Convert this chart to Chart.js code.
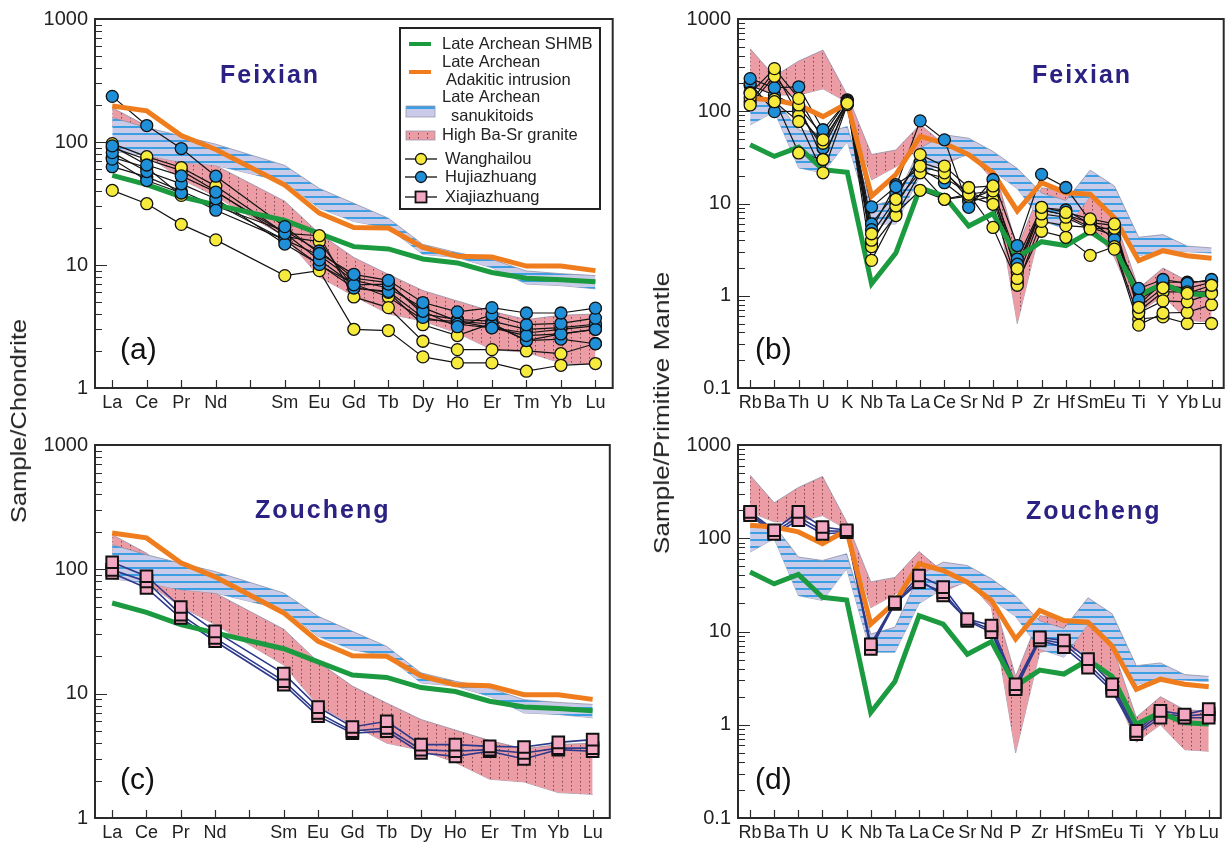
<!DOCTYPE html>
<html>
<head>
<meta charset="utf-8">
<script src="https://cdn.jsdelivr.net/npm/chart.js@4.4.0/dist/chart.umd.min.js"></script>
<style>
    body { margin: 0; background: #fff; width: 1231px; height: 845px; position: relative; overflow: hidden; font-family: 'Liberation Sans', Arial, sans-serif; }
    canvas { position: absolute; }
    .ytitle { position: absolute; white-space: nowrap; font-size: 22px; color: #222; }
</style>
</head>
<body>
<canvas id="chartA" width="620" height="420" style="left:0;top:0"></canvas>
<canvas id="chartB" width="611" height="420" style="left:620px;top:0"></canvas>
<canvas id="chartC" width="620" height="425" style="left:0;top:420px"></canvas>
<canvas id="chartD" width="611" height="425" style="left:620px;top:420px"></canvas>
<div class="ytitle" style="left:19px;top:421px;transform:translate(-50%,-50%) rotate(-90deg) scaleX(1.16)">Sample/Chondrite</div>
<div class="ytitle" style="left:662px;top:413px;transform:translate(-50%,-50%) rotate(-90deg) scaleX(1.19)">Sample/Primitive Mantle</div>

<script>
// Element lists
const REE = ['La', 'Ce', 'Pr', 'Nd', 'Sm', 'Eu', 'Gd', 'Tb', 'Dy', 'Ho', 'Er', 'Tm', 'Yb', 'Lu'];
const REE_TICKS = ['La', 'Ce', 'Pr', 'Nd', '', 'Sm', 'Eu', 'Gd', 'Tb', 'Dy', 'Ho', 'Er', 'Tm', 'Yb', 'Lu'];
const SPIDER = ['Rb', 'Ba', 'Th', 'U', 'K', 'Nb', 'Ta', 'La', 'Ce', 'Sr', 'Nd', 'P', 'Zr', 'Hf', 'Sm', 'Eu', 'Ti', 'Y', 'Yb', 'Lu'];

// Reference fields, chondrite normalised
const SHMB_REE = [53.6, 45, 35.9, 30.8, 23, 18, 14.1, 13.5, 11.2, 10.4, 8.7, 7.8, 7.6, 7.3];
const ADAK_REE = [196, 179, 113, 87, 44.6, 26.4, 20.2, 20, 13.9, 11.8, 11.6, 9.8, 9.8, 9.0];
const SANUK_REE_HI = [158, 131, 112, 96, 64.5, 41.9, 31.7, 24, 14.7, 12.6, 11.1, 8.95, 8.5, 8.2];
const SANUK_REE_LO = [84, 77.6, 68.6, 64.5, 47.4, 28.9, 22.6, 20, 12.2, 11.5, 9.5, 7.0, 6.8, 6.4];
const HBS_REE_HI = [190, 135, 80, 64.5, 33, 18, 11.5, 8.4, 6.2, 5.1, 4.2, 3.6, 3.9, 4.0];
const HBS_REE_LO = [135, 78, 50, 36, 17, 8.0, 5.6, 4.0, 3.5, 2.8, 2.05, 1.95, 1.6, 1.55];

// Reference fields, primitive mantle normalised
const SHMB_PM = [43.4, 32.4, 40.9, 23.3, 21.8, 1.35, 2.9, 14.8, 12, 5.7, 7.8, 2.6, 3.85, 3.5, 4.95, 3.3, 1.01, 1.35, 1.05, 1.02];
const ADAK_PM = [138, 132, 117, 87.5, 122, 12, 20.6, 53.3, 45, 33.8, 21.5, 8.3, 16.8, 13.1, 12.6, 7.0, 2.4, 3.08, 2.72, 2.55];
const SANUK_PM_HI = [132, 138, 62.8, 57.8, 68.2, 9.4, 11.1, 40, 55.5, 51, 36.7, 24, 13, 10.8, 23, 15.5, 4.3, 4.6, 3.45, 3.3];
const SANUK_PM_LO = [71, 99, 24.3, 21.5, 47, 6.0, 6.0, 20, 28.7, 33.8, 22.4, 14.5, 6.5, 5.3, 12, 7.5, 2.7, 3.1, 3.0, 2.9];
const HBS_PM_HI = [475, 240, 350, 460, 150, 34, 38, 72, 43.4, 43.4, 26.4, 3.3, 14.8, 13.6, 12.6, 7.0, 1.2, 2.0, 1.45, 1.4];
const HBS_PM_LO = [190, 150, 150, 175, 125, 18, 25, 40, 26.4, 35, 18, 0.5, 6.0, 6.5, 6.0, 2.6, 0.65, 1.0, 0.54, 0.52];

// Feixian samples
const WANG_REE = [
    [40.4, 31.5, 21.4, 16.0, 8.2, 9.0, 3.0, 2.93, 1.79, 1.6, 1.6, 1.37, 1.53, 1.58],
    [97, 76, 62, 43.8, 18.1, 17.3, 5.5, 4.5, 2.4, 2.05, 2.05, 2.0, 1.9, 2.3],
    [90, 72, 58.5, 40, 17, 15.5, 6.5, 6.0, 3.27, 2.67, 3.35, 2.43, 2.75, 3.0],
    [75, 62, 36.8, 31.5, 16, 10, 7, 5.5, 3.6, 3.48, 3.1, 2.8, 3.0, 3.2]
];
const HUJ_REE = [
    [235, 136, 88.5, 52.7, 20.5, 12.4, 8.4, 7.5, 4.95, 4.16, 4.5, 4.07, 4.07, 4.46],
    [93, 65, 53, 39.2, 18.1, 11.0, 6.9, 7.0, 4.2, 3.15, 3.94, 3.27, 3.35, 3.7],
    [82, 57.5, 45.7, 34.6, 14.8, 10.1, 6.5, 6.1, 3.75, 3.3, 3.08, 2.67, 2.75, 3.0],
    [72.6, 48.6, 38.5, 27.9, 16, 12, 7.5, 6.5, 4.5, 3.5, 3.3, 2.43, 2.5, 2.29],
    [63, 52, 40, 30, 19, 13, 7.8, 7.2, 4.0, 3.6, 3.5, 3.0, 3.1, 3.3]
];
const WANG_PM = [
    [156, 290, 138, 49, 122, 4.7, 11.1, 33.9, 25.4, 14.9, 15.5, 1.97, 9.1, 8.0, 6.8, 6.0, 0.75, 1.22, 1.06, 1.3],
    [117, 240, 117, 30, 125, 4.0, 9.4, 25.4, 21.5, 12.6, 13.7, 1.54, 7.7, 7.1, 5.3, 5.4, 0.65, 0.88, 0.86, 1.06],
    [160, 127, 77.4, 21.5, 118, 3.4, 7.4, 21.5, 11.1, 12, 9.8, 1.3, 6.4, 5.75, 5.5, 3.2, 0.48, 0.65, 0.66, 0.8],
    [140, 135, 35.3, 30, 120, 2.42, 7.8, 13.9, 11.1, 12.6, 5.5, 1.4, 5.0, 4.3, 2.74, 3.4, 0.56, 0.59, 0.5, 0.5],
    [125, 270, 90, 45, 128, 3.7, 10.5, 22, 19, 13, 11, 1.8, 8.5, 7.5, 6.2, 5.8, 0.68, 1.1, 1.1, 1.1]
];
const HUJ_PM = [
    [226, 180, 184, 63, 130, 9.2, 15.2, 78.7, 49, 9.1, 18.2, 3.5, 20.7, 14.9, 6.5, 4.1, 1.2, 1.5, 1.36, 1.5],
    [200, 99, 100, 40, 125, 5.2, 16, 24, 16.8, 10.5, 12, 2.2, 8.5, 7.5, 5.5, 4.5, 0.9, 1.3, 1.2, 1.4],
    [190, 150, 110, 55, 133, 6, 13, 28, 23, 11, 14, 2.5, 9, 8.5, 6.0, 5, 0.8, 1.4, 1.4, 1.45]
];

// Zoucheng samples
const XIA_REE = [
    [114, 88, 49.8, 31.7, 14.5, 7.8, 5.4, 6.0, 3.89, 3.89, 3.77, 3.72, 4.06, 4.27],
    [99, 80, 43.2, 28, 12.6, 7.0, 5.0, 5.3, 3.55, 3.44, 3.55, 3.33, 3.65, 3.65],
    [93.5, 70.8, 40.6, 26.4, 11.8, 6.6, 4.8, 5.0, 3.33, 3.13, 3.44, 2.98, 3.55, 3.44]
];
const XIA_PM = [
    [192, 122, 192, 132, 122, 7.3, 20.6, 39.9, 29.9, 13.6, 11.6, 2.72, 8.65, 8.0, 5.06, 2.72, 0.86, 1.41, 1.29, 1.47],
    [177, 111, 156, 111, 116, 6.5, 19.8, 33.8, 26.4, 13.0, 9.8, 2.4, 8.0, 6.8, 4.1, 2.3, 0.79, 1.19, 1.19, 1.19],
    [185, 116, 170, 120, 119, 6.9, 20.2, 36, 24.3, 13.3, 10.5, 2.55, 8.3, 7.4, 4.5, 2.5, 0.82, 1.3, 1.24, 1.3]
];

const LEGEND_LABELS = ['Late Archean SHMB', 'Late Archean', 'Adakitic intrusion', 'Late Archean', 'sanukitoids',
    'High Ba-Sr granite', 'Wanghailou', 'Hujiazhuang', 'Xiajiazhuang'];

const GREEN = '#1c9a3f';
const ORANGE = '#ef7d1d';
const YELLOW = '#f6ea3c';
const BLUE = '#1f8fd8';
const PINK = '#f2a7c3';
const NAVY = '#2a2183';
const FONT = "'Liberation Sans', Arial, sans-serif";

function stripePattern() {
    const c = document.createElement('canvas');
    c.width = 8; c.height = 7;
    const g = c.getContext('2d');
    g.fillStyle = '#c9cbe8';
    g.fillRect(0, 0, 8, 7);
    g.fillStyle = '#3d9fe3';
    g.fillRect(0, 0, 8, 2);
    return g.createPattern(c, 'repeat');
}

function dotPattern() {
    const c = document.createElement('canvas');
    c.width = 9; c.height = 4;
    const g = c.getContext('2d');
    g.fillStyle = '#ec9ca5';
    g.fillRect(0, 0, 9, 4);
    g.fillStyle = 'rgba(90,40,45,0.75)';
    g.fillRect(4, 1, 1, 1.5);
    return g.createPattern(c, 'repeat');
}

const STRIPES = stripePattern();
const DOTS = dotPattern();

// put a null at the Pm slot
const ree = vals => REE_TICKS.map(t => t ? vals[REE.indexOf(t)] : null);

function logTicks(min, max) {
    const ticks = [];
    for (let d = Math.round(Math.log10(min)); d < Math.round(Math.log10(max)); d++) {
        for (let i = 1; i < 10; i++) ticks.push({ value: Number((i * Math.pow(10, d)).toPrecision(3)) });
    }
    ticks.push({ value: max });
    return ticks;
}

const isDecade = v => Math.abs(Math.log10(v) - Math.round(Math.log10(v))) < 1e-6;

const band = (hi, lo, pattern, order) => [
    { data: hi, borderColor: '#8f8fa6', borderWidth: 0.8, pointRadius: 0, fill: '+1', backgroundColor: pattern, order },
    { data: lo, borderColor: '#8f8fa6', borderWidth: 0.8, pointRadius: 0, fill: false, order }
];
const refLine = (data, color) => ({ data, borderColor: color, borderWidth: 5, pointRadius: 0, fill: false, order: 1 });
const sampleLine = (data, color, width) => ({ data, borderColor: color, borderWidth: width, pointRadius: 0, fill: false, order: 2 });
const samplePts = (data, fill, style, r, bw, order) => ({
    data, showLine: false, pointStyle: style, pointRadius: r,
    pointBackgroundColor: fill, pointBorderColor: '#111', pointBorderWidth: bw, order
});

// frame, inward ticks, panel title and letter, optional legend
const panelDeco = {
    id: 'panelDeco',
    afterDatasetsDraw(chart, args, opts) {
        const { ctx, chartArea: a } = chart;
        const xs = chart.scales.x, ys = chart.scales.y;
        ctx.save();
        ctx.strokeStyle = '#2a2a2a';
        ctx.lineWidth = 1.2;
        ctx.beginPath();
        ys.ticks.forEach(t => {
            const py = Math.round(ys.getPixelForValue(t.value)) + 0.5;
            ctx.moveTo(a.left, py);
            ctx.lineTo(a.left + (isDecade(t.value) ? 12 : 7), py);
        });
        xs.ticks.forEach((t, i) => {
            const px = Math.round(xs.getPixelForTick(i)) + 0.5;
            ctx.moveTo(px, a.bottom);
            ctx.lineTo(px, a.bottom - 8);
        });
        ctx.stroke();
        ctx.lineWidth = 2;
        ctx.strokeRect(a.left, a.top, a.right - a.left, a.bottom - a.top);

        ctx.fillStyle = NAVY;
        ctx.font = `bold 25px ${FONT}`;
        ctx.letterSpacing = '2px';
        ctx.textAlign = 'left';
        ctx.textBaseline = 'alphabetic';
        ctx.fillText(opts.title, opts.titleX, opts.titleY);
        ctx.letterSpacing = '0px';
        ctx.fillStyle = '#111';
        ctx.font = `30px ${FONT}`;
        ctx.fillText(opts.letter, opts.letterX, opts.letterY);
        if (opts.legend) drawLegend(ctx);
        ctx.restore();
    }
};

function drawLegend(ctx) {
    const L = LEGEND_LABELS;
    ctx.fillStyle = '#fff';
    ctx.fillRect(400, 28, 200, 181);
    ctx.strokeStyle = '#222';
    ctx.lineWidth = 2;
    ctx.strokeRect(400, 28, 200, 181);

    ctx.lineWidth = 4;
    ctx.strokeStyle = GREEN;
    ctx.beginPath(); ctx.moveTo(409, 44); ctx.lineTo(431, 44); ctx.stroke();
    ctx.strokeStyle = ORANGE;
    ctx.beginPath(); ctx.moveTo(409, 72); ctx.lineTo(431, 72); ctx.stroke();

    ctx.fillStyle = '#c9cbe8';
    ctx.fillRect(406, 106, 29, 11);
    ctx.fillStyle = '#3d9fe3';
    ctx.fillRect(406, 106, 29, 3);
    ctx.fillStyle = DOTS;
    ctx.fillRect(406, 131, 29, 9);
    ctx.strokeStyle = '#9a9ab0';
    ctx.lineWidth = 0.8;
    ctx.strokeRect(406, 106, 29, 11);
    ctx.strokeRect(406, 131, 29, 9);

    const rows = [159, 177, 197];
    ctx.strokeStyle = '#111';
    ctx.lineWidth = 1.3;
    rows.forEach(y => { ctx.beginPath(); ctx.moveTo(405, y); ctx.lineTo(437, y); ctx.stroke(); });
    [YELLOW, BLUE].forEach((c, i) => {
        ctx.beginPath();
        ctx.arc(421, rows[i], 5.5, 0, Math.PI * 2);
        ctx.fillStyle = c; ctx.fill(); ctx.stroke();
    });
    ctx.fillStyle = PINK;
    ctx.fillRect(415.5, 191.5, 11, 11);
    ctx.lineWidth = 1.8;
    ctx.strokeRect(415.5, 191.5, 11, 11);

    ctx.fillStyle = '#222';
    ctx.font = `16.5px ${FONT}`;
    ctx.textBaseline = 'middle';
    const pos = [[442, 44], [442, 62], [446, 80], [442, 97], [451, 116], [442, 135], [445, 159], [445, 177], [445, 197]];
    L.forEach((t, i) => ctx.fillText(t, pos[i][0], pos[i][1]));
}

function makePanel(id, p) {
    return new Chart(document.getElementById(id), {
        type: 'line',
        data: { labels: p.labels, datasets: p.datasets },
        options: {
            responsive: false,
            animation: false,
            spanGaps: true,
            events: [],
            layout: { padding: p.padding },
            plugins: {
                legend: { display: false },
                tooltip: { enabled: false },
                panelDeco: p.deco
            },
            scales: {
                x: {
                    type: 'category',
                    offset: true,
                    grid: { display: false, drawTicks: false, tickLength: 0 },
                    border: { display: false },
                    ticks: { autoSkip: false, maxRotation: 0, minRotation: 0, padding: 4, color: '#222', font: p.xFont },
                    afterFit: s => { s.height = p.xHeight; }
                },
                y: {
                    type: 'logarithmic',
                    min: p.yMin,
                    max: p.yMax,
                    grid: { display: false, drawTicks: false, tickLength: 0 },
                    border: { display: false },
                    afterBuildTicks: s => { s.ticks = logTicks(p.yMin, p.yMax); },
                    ticks: {
                        autoSkip: false, padding: 7, color: '#222',
                        font: { family: FONT, size: 20 },
                        callback: v => isDecade(v) ? String(v) : ''
                    },
                    afterFit: s => { s.width = p.yWidth; }
                }
            }
        },
        plugins: [panelDeco]
    });
}

function reeDatasets(samples) {
    return [
        ...band(ree(HBS_REE_HI), ree(HBS_REE_LO), DOTS, 4),
        ...band(ree(SANUK_REE_HI), ree(SANUK_REE_LO), STRIPES, 3),
        refLine(ree(SHMB_REE), GREEN),
        refLine(ree(ADAK_REE), ORANGE),
        ...samples
    ];
}

function pmDatasets(samples) {
    return [
        ...band(HBS_PM_HI, HBS_PM_LO, DOTS, 4),
        ...band(SANUK_PM_HI, SANUK_PM_LO, STRIPES, 3),
        refLine(SHMB_PM, GREEN),
        refLine(ADAK_PM, ORANGE),
        ...samples
    ];
}

const circles = (sets, fill, order) => sets.flatMap(s => [sampleLine(s, '#141414', 1.2), samplePts(s, fill, 'circle', 6, 1.3, order)]);
const squares = sets => sets.flatMap(s => [sampleLine(s, '#2d3a8c', 1.6), samplePts(s, PINK, 'rect', 8.2, 2, 0)]);

const REE_FONT = { family: FONT, size: 18 };
const PM_FONT = { family: "'Liberation Sans Narrow', 'Arial Narrow', " + FONT, size: 18 };

makePanel('chartA', {
    labels: REE_TICKS, yMin: 1, yMax: 1000, yWidth: 95, xHeight: 32,
    padding: { top: 15, right: 6, bottom: 0, left: 0 }, xFont: REE_FONT,
    datasets: reeDatasets([...circles(WANG_REE.map(ree), YELLOW, 0.5), ...circles(HUJ_REE.map(ree), BLUE, 0)]),
    deco: { title: 'Feixian', titleX: 220, titleY: 83, letter: '(a)', letterX: 120, letterY: 359, legend: true }
});

makePanel('chartB', {
    labels: SPIDER, yMin: 0.1, yMax: 1000, yWidth: 118, xHeight: 32,
    padding: { top: 15, right: 7, bottom: 0, left: 0 }, xFont: PM_FONT,
    datasets: pmDatasets([...circles(WANG_PM, YELLOW, 0), ...circles(HUJ_PM, BLUE, 0.5)]),
    deco: { title: 'Feixian', titleX: 412, titleY: 83, letter: '(b)', letterX: 135, letterY: 359 }
});

makePanel('chartC', {
    labels: REE_TICKS, yMin: 1, yMax: 1000, yWidth: 95, xHeight: 27,
    padding: { top: 25, right: 6, bottom: 0, left: 0 }, xFont: REE_FONT,
    datasets: reeDatasets(squares(XIA_REE.map(ree))),
    deco: { title: 'Zoucheng', titleX: 255, titleY: 98, letter: '(c)', letterX: 120, letterY: 369 }
});

makePanel('chartD', {
    labels: SPIDER, yMin: 0.1, yMax: 1000, yWidth: 118, xHeight: 27,
    padding: { top: 25, right: 7, bottom: 0, left: 0 }, xFont: PM_FONT,
    datasets: pmDatasets(squares(XIA_PM)),
    deco: { title: 'Zoucheng', titleX: 406, titleY: 99, letter: '(d)', letterX: 135, letterY: 369 }
});
</script>
</body>
</html>
